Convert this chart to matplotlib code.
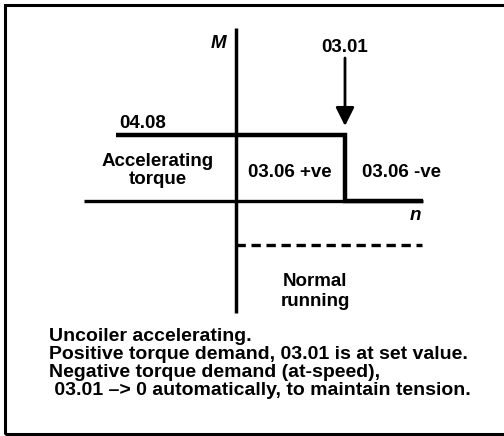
"""Uncoiler torque/speed diagram (M-n plane)."""

import matplotlib

matplotlib.use("Agg")
import matplotlib.pyplot as plt
from matplotlib.patches import Rectangle

plt.rcParams["font.family"] = ["Liberation Sans", "DejaVu Sans"]
plt.rcParams["font.weight"] = "bold"

# speed n and torque M, normalised so the set speed (03.01) is n = 1
axis_n = [-1.39, 1.72]
axis_m = [-1.03, 1.59]
torque_n = [-1.10, 1.00, 1.00, 1.72]      # torque limit 04.08, then drop at set speed
torque_m = [0.606, 0.606, 0.0, 0.0]
running_n = [0.0, 1.71]                   # normal running (negative torque)
running_m = [-0.404, -0.404]
set_speed = 1.00
arrow_m = [1.312, 0.688]                  # tail, tip

notes = [
    "Uncoiler accelerating.",
    "Positive torque demand, 03.01 is at set value.",
    "Negative torque demand (at-speed),",
    " 03.01 \u2013> 0 automatically, to maintain tension.",
]

W, H = 504, 436
X0, Y0, S = 236, 201, 109   # pixel position of origin and pixels per unit

fig = plt.figure(figsize=(W / 100, H / 100), dpi=100)
ax = fig.add_axes([0, 0, 1, 1])
ax.set_xlim(-X0 / S, (W - X0) / S)
ax.set_ylim(-(H - Y0) / S, Y0 / S)
ax.axis("off")

# outer frame (right edge runs off the picture)
fig.add_artist(Rectangle((4.5 / W, 2.5 / H), 1.2, 1 - 7.8 / H,
                         transform=fig.transFigure, fill=False,
                         edgecolor="black", linewidth=2.2))

# axes
ax.plot(axis_n, [0, 0], color="black", lw=2.4, solid_capstyle="butt")
ax.plot([0, 0], axis_m, color="black", lw=2.5, solid_capstyle="butt")

# torque characteristic
ax.plot(torque_n, torque_m, color="black", lw=3.2,
        solid_capstyle="butt", solid_joinstyle="miter")
ax.plot(running_n, running_m, color="black", lw=2.4, linestyle=(0, (2.8, 1.7)))

ax.annotate("", xy=(set_speed, arrow_m[1]), xytext=(set_speed, arrow_m[0]),
            arrowprops=dict(arrowstyle="-|>", color="black", lw=2.0,
                            mutation_scale=28, shrinkA=0, shrinkB=0))

lab = dict(fontsize=13.5, fontweight="bold", va="baseline")
ax.text(-0.161, 1.404, "M", ha="center", style="italic", **lab)
ax.text(1.642, -0.174, "n", ha="center", style="italic", **lab)
ax.text(set_speed, 1.367, "03.01", ha="center", **lab)
ax.text(-1.073, 0.670, "04.08", ha="left", **lab)
ax.text(-0.716, 0.321, "Accelerating", ha="center", **lab)
ax.text(-0.716, 0.156, "torque", ha="center", **lab)
ax.text(0.495, 0.220, "03.06 +ve", ha="center", **lab)
ax.text(1.514, 0.220, "03.06 -ve", ha="center", **lab)
ax.text(0.725, -0.780, "Normal", ha="center", **lab)
ax.text(0.725, -0.963, "running", ha="center", **lab)

for i, line in enumerate(notes):
    ax.text(-1.716, -1.284 - 0.166 * i, line, ha="left", fontsize=14,
            fontweight="bold", va="baseline")

fig.savefig("out.png", dpi=100)
